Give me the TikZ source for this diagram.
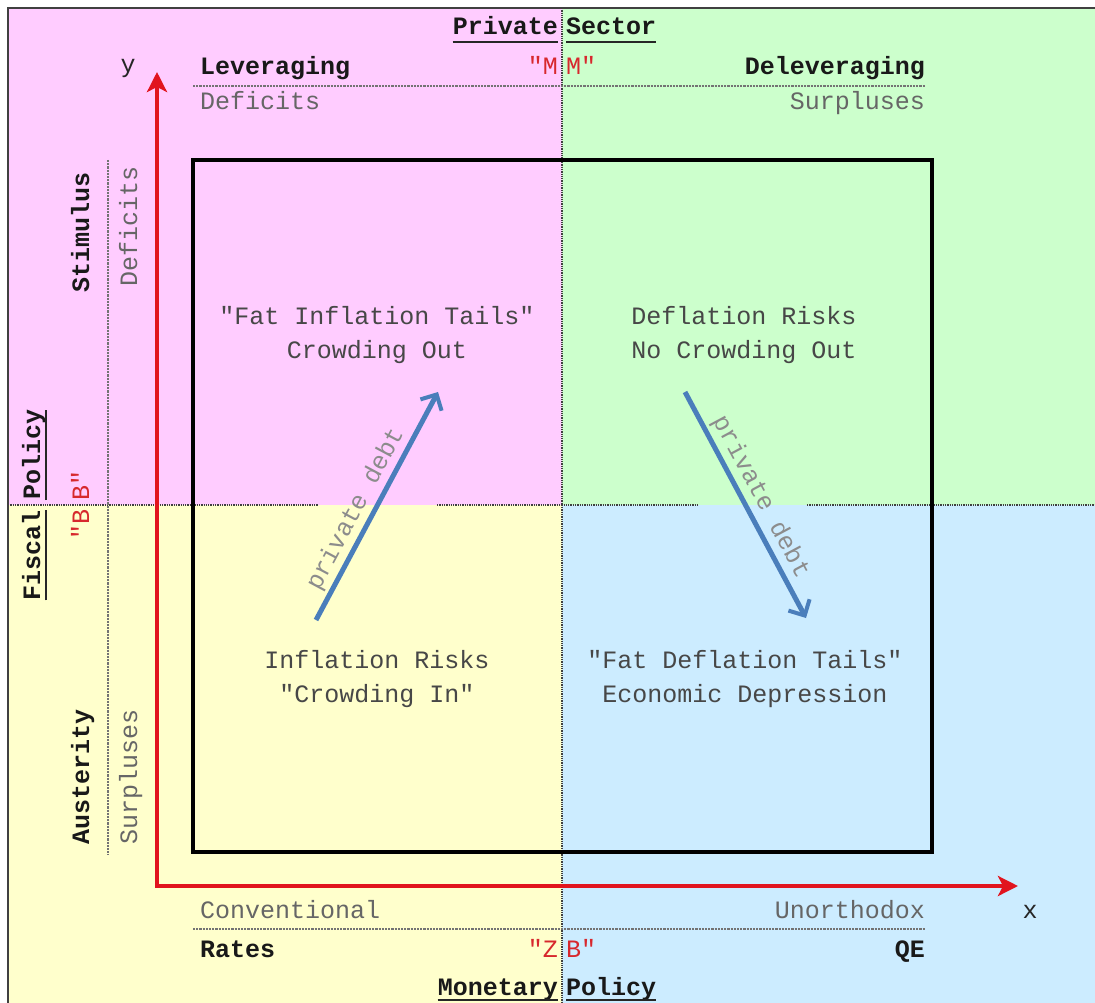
\documentclass[tikz,border=0pt]{standalone}
\usepackage{xcolor}
\usepackage{fontspec}
\setmonofont{Liberation Mono}
\usetikzlibrary{arrows.meta}
\definecolor{quadpink}{RGB}{255,204,255}
\definecolor{quadgreen}{RGB}{204,255,204}
\definecolor{quadyellow}{RGB}{255,255,204}
\definecolor{quadblue}{RGB}{204,236,255}
\definecolor{axisred}{RGB}{225,20,30}
\definecolor{debtblue}{RGB}{74,126,187}
\definecolor{quotered}{RGB}{215,40,45}

\tikzset{
  txt/.style={font=\fontsize{25}{34}\selectfont\ttfamily, inner sep=0pt, text=black!85},
  boldtxt/.style={font=\fontsize{25}{34}\selectfont\ttfamily\bfseries, inner sep=0pt, text=black!90},
  greytxt/.style={txt, text=black!60},
  redtxt/.style={font=\fontsize{25}{34}\selectfont\ttfamily, inner sep=0pt, text=quotered},
  quadtxt/.style={txt, align=center, text=black!72},
  divider/.style={densely dotted, line width=1.3pt, black!75},
  rowline/.style={densely dotted, line width=2.2pt, black!55},
  uline/.style={line width=1.2pt, black!85},
  axisline/.style={line width=4.5pt, axisred, line join=miter,
    {Stealth[length=20pt,width=20pt,inset=5pt]}-{Stealth[length=20pt,width=20pt,inset=5pt]}},
  debtarrow/.style={line width=5pt, debtblue, -{Straight Barb[length=12pt,width=24pt,line width=4pt]}},
  debtlabel/.style={font=\fontsize{25}{30}\selectfont\ttfamily, text=black!45, inner sep=3pt}
}

\begin{document}
\begin{tikzpicture}[x=1pt, y=-1pt]
\useasboundingbox (0,0) rectangle (1095,1003);
% quadrants
\fill[white] (0,0) rectangle (1095,1003);
\fill[quadpink] (8,8) rectangle (562,505);
\fill[quadgreen] (562,8) rectangle (1095,505);
\fill[quadyellow] (8,505) rectangle (562,1003);
\fill[quadblue] (562,505) rectangle (1095,1003);
\draw[line width=1.5pt, black!75] (8,1003) -- (8,8) -- (1095,8);
\draw[divider] (562,8) -- (562,1003);
\draw[divider] (8,505) -- (318,505);
\draw[divider] (437,505) -- (697,505);
\draw[divider] (807,505) -- (1095,505);

% private sector (top)
\node[boldtxt, anchor=base east] (priv) at (558,35) {Private};
\node[boldtxt, anchor=base west] (sect) at (566,35) {Sector};
\draw[uline] ([yshift=-7pt]priv.base west) -- ([yshift=-7pt]priv.base east);
\draw[uline] ([yshift=-7pt]sect.base west) -- ([yshift=-7pt]sect.base east);
\node[boldtxt, anchor=base west] (lev) at (200,75) {Leveraging};
\node[redtxt, anchor=base east] (mleft) at (558,75) {"M};
\node[redtxt, anchor=base west] (mright) at (566,75) {M"};
\node[boldtxt, anchor=base east] (delev) at (925,75) {Deleveraging};
\draw[rowline] (193,86) -- (925,86);
\node[greytxt, anchor=base west] (pdef) at (200,110) {Deficits};
\node[greytxt, anchor=base east] (psur) at (925,110) {Surpluses};

% monetary policy (bottom)
\node[greytxt, anchor=base west] (conv) at (200,918) {Conventional};
\node[greytxt, anchor=base east] (unor) at (925,918) {Unorthodox};
\draw[rowline] (193,929) -- (925,929);
\node[boldtxt, anchor=base west] (rates) at (200,957) {Rates};
\node[redtxt, anchor=base east] (zleft) at (558,957) {"Z};
\node[redtxt, anchor=base west] (zright) at (566,957) {B"};
\node[boldtxt, anchor=base east] (qe) at (925,957) {QE};
\node[boldtxt, anchor=base east] (mone) at (558,995) {Monetary};
\node[boldtxt, anchor=base west] (mpol) at (566,995) {Policy};
\draw[uline] ([yshift=-5pt]mone.base west) -- ([yshift=-5pt]mone.base east);
\draw[uline] ([yshift=-5pt]mpol.base west) -- ([yshift=-5pt]mpol.base east);

% fiscal policy (left)
\node[boldtxt, rotate=90, anchor=base east] (fisc) at (40,510) {Fiscal};
\node[boldtxt, rotate=90, anchor=base west] (fpol) at (40,500) {Policy};
\draw[uline] ([xshift=6pt]fisc.base west) -- ([xshift=6pt]fisc.base east);
\draw[uline] ([xshift=6pt]fpol.base west) -- ([xshift=6pt]fpol.base east);
\node[redtxt, rotate=90, anchor=base east] (bleft) at (89,509) {"B};
\node[redtxt, rotate=90, anchor=base west] (bright) at (89,501) {B"};
\node[boldtxt, rotate=90, anchor=base east] (stim) at (89,172) {Stimulus};
\node[boldtxt, rotate=90, anchor=base west] (aust) at (89,845) {Austerity};
\draw[rowline] (108,160) -- (108,855);
\node[greytxt, rotate=90, anchor=base east] (fdef) at (137,166) {Deficits};
\node[greytxt, rotate=90, anchor=base west] (fsur) at (137,845) {Surpluses};

% axes
\coordinate (ytip) at (157,72);
\coordinate (origin) at (157,886);
\coordinate (xtip) at (1018,886);
\draw[axisline] (ytip) -- (origin) -- (xtip);
\node[txt] (ylab) at (128,68) {y};
\node[txt] (xlab) at (1030,912) {x};

% frame
\draw[line width=4.5pt, black] (193,160) rectangle (932,852);

% quadrant texts
\node[quadtxt] (fatinf) at (377,335) {"Fat Inflation Tails"\\Crowding Out};
\node[quadtxt] (defl) at (744,335) {Deflation Risks\\No Crowding Out};
\node[quadtxt] (infl) at (377,679) {Inflation Risks\\"Crowding In"};
\node[quadtxt] (fatdef) at (745,679) {"Fat Deflation Tails"\\Economic Depression};

% private debt arrows
\coordinate (upfrom) at (316,620);
\coordinate (upto) at (438,392);
\coordinate (downfrom) at (685,392);
\coordinate (downto) at (806,618);
\draw[debtarrow] (upfrom) -- node[debtlabel, sloped, above, pos=0.45] {private debt} (upto);
\draw[debtarrow] (downfrom) -- node[debtlabel, sloped, above, pos=0.5] {private debt} (downto);
\end{tikzpicture}
\end{document}
